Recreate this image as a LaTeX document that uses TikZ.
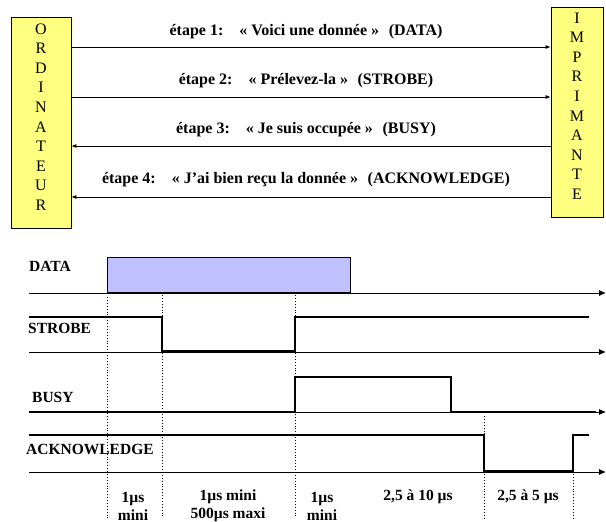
\documentclass[tikz,border=0pt]{standalone}
\usepackage{fontspec}
\setmainfont{Liberation Serif}
\usetikzlibrary{arrows.meta}
\definecolor{boxyellow}{RGB}{255,255,128}
\definecolor{datablue}{RGB}{192,192,255}
\begin{document}
\begin{tikzpicture}[x=1pt,y=-1pt,
  vbox/.style={draw=black, line width=0.8pt, fill=boxyellow, inner sep=0pt},
  vtext/.style={font=\fontsize{16}{19.55}\selectfont, align=center, inner sep=0pt},
  msg/.style={font=\bfseries\fontsize{16}{18}\selectfont, inner sep=0pt},
  link/.style={line width=0.8pt, -{Latex[length=5pt,width=4pt]}},
  axis/.style={line width=0.9pt, -{Latex[length=7pt,width=6pt]}},
  sig/.style={line width=2.6pt, line cap=butt, line join=miter},
  guide/.style={dotted, line width=0.9pt},
  sname/.style={font=\bfseries\fontsize{15.5}{18}\selectfont, anchor=west, inner sep=0pt},
  tlab/.style={font=\bfseries\fontsize{15.5}{18}\selectfont, align=center, inner sep=0pt}]
\useasboundingbox (0,0) rectangle (606,522);

% ---- top: boxes ----
\node[vbox, minimum width=60pt, minimum height=211pt] (lbox) at (41,122.5) {};
\node[vtext] (ltext) at (41,117) {O\\R\\D\\I\\N\\A\\T\\E\\U\\R};
\node[vbox, minimum width=52pt, minimum height=210pt] (rbox) at (577,112) {};
\node[vtext] (rtext) at (577,106) {I\\M\\P\\R\\I\\M\\A\\N\\T\\E};

% ---- top: messages ----
\coordinate (a1) at (lbox.east |- 0,47);  \coordinate (b1) at (rbox.west |- 0,47);
\coordinate (a2) at (lbox.east |- 0,97);  \coordinate (b2) at (rbox.west |- 0,97);
\coordinate (a3) at (lbox.east |- 0,146); \coordinate (b3) at (rbox.west |- 0,146);
\coordinate (a4) at (lbox.east |- 0,197); \coordinate (b4) at (rbox.west |- 0,197);
\draw[link] (a1) -- (b1);
\draw[link] (a2) -- (b2);
\draw[link] (b3) -- (a3);
\draw[link] (b4) -- (a4);
\node[msg] (m1) at (306,32) {étape 1:\hspace{1em}« Voici une donnée »\hspace{0.6em}(DATA)};
\node[msg] (m2) at (306,81) {étape 2:\hspace{1em}« Prélevez-la »\hspace{0.6em}(STROBE)};
\node[msg] (m3) at (306,130) {étape 3:\hspace{1em}« Je suis occupée »\hspace{0.6em}(BUSY)};
\node[msg] (m4) at (306,180) {étape 4:\hspace{1em}« J’ai bien reçu la donnée »\hspace{0.6em}(ACKNOWLEDGE)};

% ---- timing diagram ----
% guides
\draw[guide] (107,297) -- (107,518);
\draw[guide] (162,295) -- (162,518);
\draw[guide] (295,295) -- (295,518);
\draw[guide] (484,416) -- (484,518);
\draw[guide] (573,474) -- (573,518);

% DATA
\draw[line width=0.8pt, fill=datablue] (107,293) rectangle (350,257);
\draw[axis] (29,293) -- (606,293);
\draw[sig] (107,293) -- (350,293);
\node[sname] (ndata) at (29,266) {DATA};

% STROBE
\draw[axis] (29,352) -- (606,352);
\draw[sig] (29,317) -- (162,317) -- (162,351) -- (295,351) -- (295,317) -- (589,317);
\node[sname] (nstrobe) at (28,328) {STROBE};

% BUSY
\draw[axis] (29,412) -- (606,412);
\draw[sig] (29,412) -- (295,412) -- (295,377) -- (451,377) -- (451,412) -- (596,412);
\node[sname] (nbusy) at (32,397) {BUSY};

% ACKNOWLEDGE
\draw[axis] (29,472) -- (606,472);
\draw[sig] (29,435) -- (484,435) -- (484,471) -- (573,471) -- (573,435) -- (589,435);
\node[sname] (nack) at (26,449) {ACKNOWLEDGE};

% durations
\node[tlab] (t1) at (133,506) {1µs\\mini};
\node[tlab] (t2) at (228,506) {1µs mini\\500µs maxi};
\node[tlab] (t3) at (322,506) {1µs\\mini};
\node[tlab] (t4) at (418,497) {2,5 à 10 µs};
\node[tlab] (t5) at (528,497) {2,5 à 5 µs};
\end{tikzpicture}
\end{document}
